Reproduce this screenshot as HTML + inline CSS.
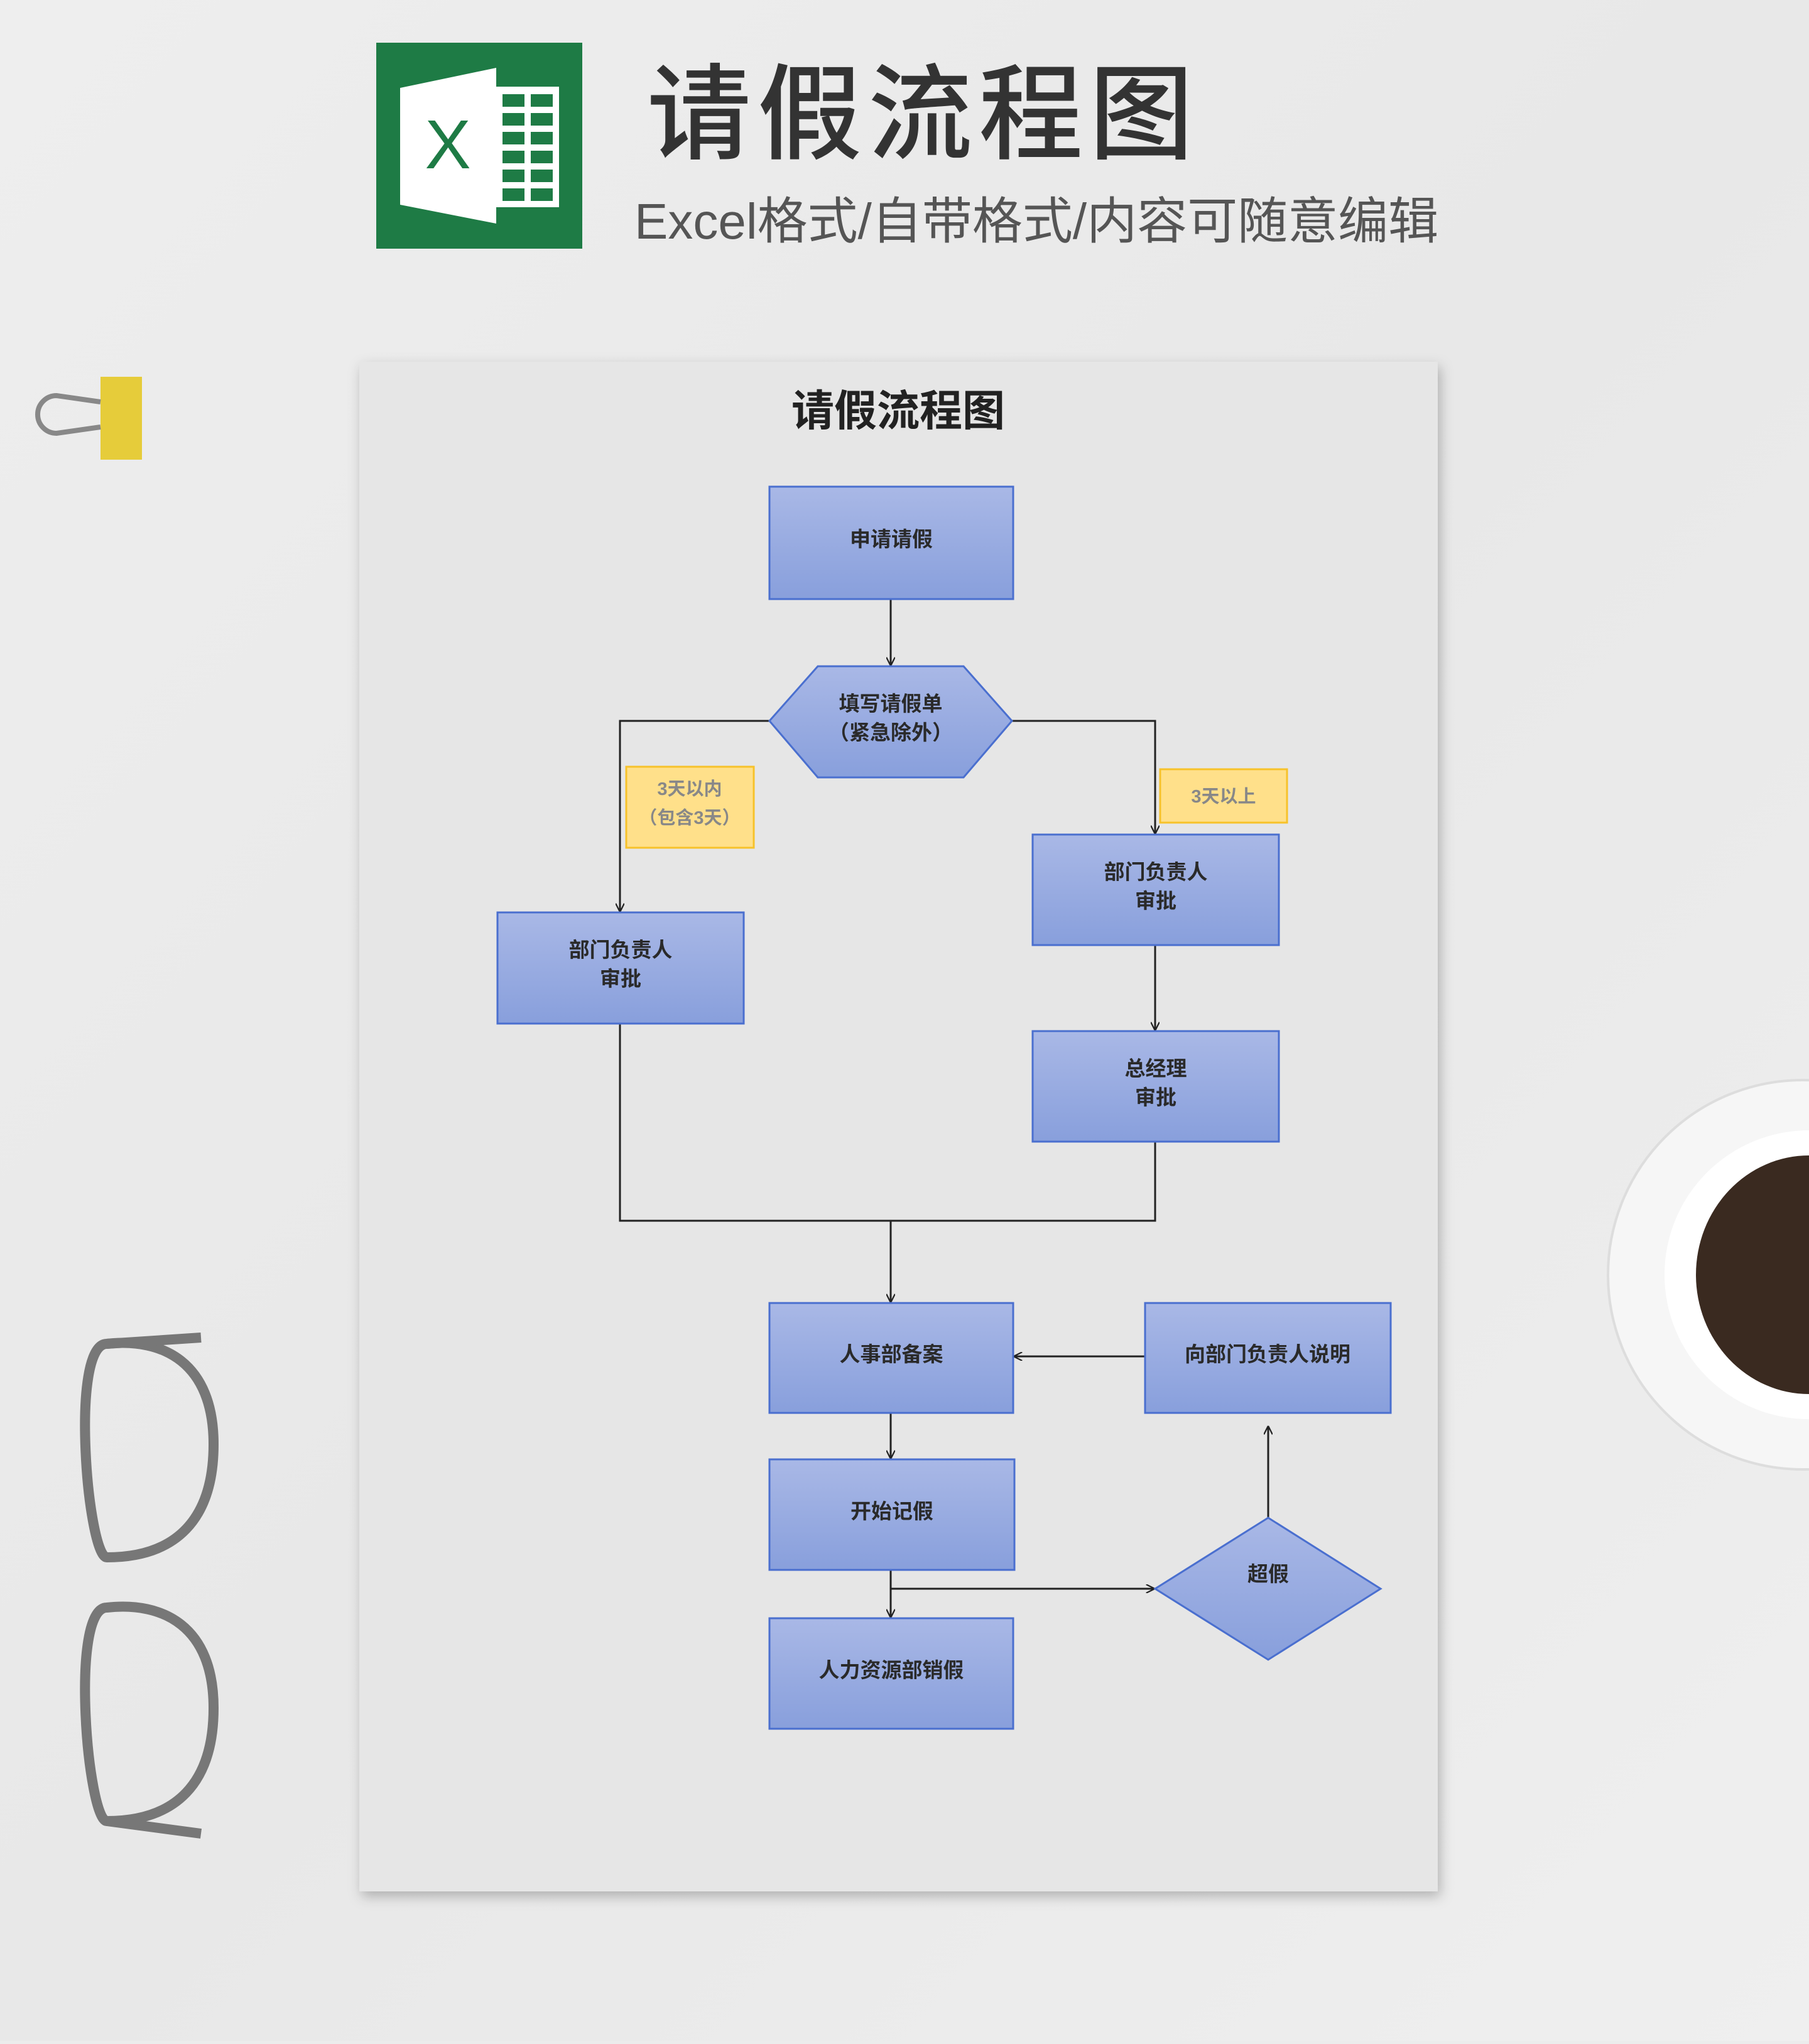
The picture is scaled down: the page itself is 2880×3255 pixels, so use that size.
<!DOCTYPE html>
<html><head><meta charset="utf-8"><style>
html,body{margin:0;padding:0;}
body{width:2880px;height:3250px;overflow:hidden;background:#ececec;font-family:"Liberation Sans","Noto Sans CJK SC",sans-serif;}
</style></head><body>
<svg width="2880" height="3250" viewBox="0 0 2880 3250" xmlns="http://www.w3.org/2000/svg" font-family="Liberation Sans, Noto Sans CJK SC, sans-serif">
<defs>
<linearGradient id="bg" x1="0" y1="0" x2="1" y2="1">
<stop offset="0" stop-color="#eeeeee"/><stop offset="0.5" stop-color="#e8e8e8"/><stop offset="1" stop-color="#efefef"/></linearGradient>
<linearGradient id="bx" x1="0" y1="0" x2="0" y2="1">
<stop offset="0" stop-color="#a9b8e6"/><stop offset="1" stop-color="#889fdc"/></linearGradient>
<marker id="ar" viewBox="0 0 10 10" refX="9" refY="5" markerWidth="14" markerHeight="14" orient="auto" markerUnits="userSpaceOnUse">
<path d="M0,0 L10,5 L0,10" fill="none" stroke="#222" stroke-width="1.6"/></marker>
<filter id="sh" x="-5%" y="-5%" width="110%" height="110%"><feDropShadow dx="4" dy="8" stdDeviation="10" flood-color="#000" flood-opacity="0.25"/></filter>
</defs>
<rect width="2880" height="3250" fill="url(#bg)"/>
<rect x="599" y="68" width="328" height="328" fill="#1e7b45"/>
<polygon points="637,140 790,108 790,356 637,326" fill="#fff"/>
<rect x="790" y="138" width="100" height="192" fill="#fff"/>
<g fill="#1e7b45"><rect x="800" y="150" width="35" height="20"/><rect x="845" y="150" width="35" height="20"/>
<rect x="800" y="180" width="35" height="20"/><rect x="845" y="180" width="35" height="20"/>
<rect x="800" y="210" width="35" height="20"/><rect x="845" y="210" width="35" height="20"/>
<rect x="800" y="240" width="35" height="20"/><rect x="845" y="240" width="35" height="20"/>
<rect x="800" y="270" width="35" height="20"/><rect x="845" y="270" width="35" height="20"/>
<rect x="800" y="300" width="35" height="20"/><rect x="845" y="300" width="35" height="20"/></g>
<text x="713" y="268" font-size="110" fill="#1e7b45" text-anchor="middle" font-family="Liberation Sans, sans-serif">X</text>
<text x="1030" y="240" font-size="166" fill="#333" font-weight="500" letter-spacing="10">请假流程图</text>
<text x="1010" y="380" font-size="80" fill="#555">Excel格式/自带格式/内容可随意编辑</text>
<rect x="160" y="600" width="66" height="132" fill="#e6cc3a"/>
<path d="M160,640 L90,630 A25,25 0 1 0 90,690 L160,680" fill="none" stroke="#888" stroke-width="8"/>
<g fill="none" stroke="#777" stroke-width="16">
<path d="M170,2140 C110,2140 140,2480 170,2480 C280,2480 340,2420 340,2300 C340,2170 260,2130 170,2140Z"/>
<path d="M170,2560 C110,2560 140,2900 170,2900 C280,2900 340,2840 340,2720 C340,2590 260,2550 170,2560Z"/>
<path d="M170,2140 L320,2130"/><path d="M170,2900 L320,2920"/>
</g>
<circle cx="2870" cy="2030" r="310" fill="#f6f6f6" stroke="#ddd" stroke-width="4"/>
<circle cx="2880" cy="2030" r="230" fill="#fff"/>
<ellipse cx="2880" cy="2030" rx="180" ry="190" fill="#3a2a20"/>
<rect x="572" y="576" width="1717" height="2436" fill="#e6e6e6" filter="url(#sh)"/>
<text x="1430" y="678" font-size="68" fill="#222" font-weight="bold" text-anchor="middle">请假流程图</text>
<g stroke="#222" stroke-width="3" fill="none">
<line x1="1418" y1="954" x2="1418" y2="1059" marker-end="url(#ar)"/>
<polyline points="1225,1148 987,1148 987,1451" marker-end="url(#ar)"/>
<polyline points="1611,1148 1839,1148 1839,1327" marker-end="url(#ar)"/>
<line x1="1839" y1="1505" x2="1839" y2="1640" marker-end="url(#ar)"/>
<polyline points="987,1630 987,1944 1839,1944 1839,1818"/>
<line x1="1418" y1="1944" x2="1418" y2="2073" marker-end="url(#ar)"/>
<line x1="1823" y1="2160" x2="1615" y2="2160" marker-end="url(#ar)"/>
<line x1="1418" y1="2250" x2="1418" y2="2322" marker-end="url(#ar)"/>
<line x1="1418" y1="2500" x2="1418" y2="2575" marker-end="url(#ar)"/>
<line x1="1418" y1="2530" x2="1837" y2="2530" marker-end="url(#ar)"/>
<line x1="2019" y1="2417" x2="2019" y2="2272" marker-end="url(#ar)"/>
</g>
<g fill="url(#bx)" stroke="#4a6fcf" stroke-width="3">
<rect x="1225" y="775" width="388" height="179"/>
<polygon points="1225,1148 1302,1061 1534,1061 1611,1148 1534,1238 1302,1238"/>
<rect x="792" y="1453" width="392" height="177"/>
<rect x="1644" y="1329" width="392" height="176"/>
<rect x="1644" y="1642" width="392" height="176"/>
<rect x="1225" y="2075" width="388" height="175"/>
<rect x="1823" y="2075" width="391" height="175"/>
<rect x="1225" y="2324" width="390" height="176"/>
<rect x="1225" y="2577" width="388" height="176"/>
<polygon points="1839,2530 2019,2417 2198,2530 2019,2643"/>
</g>
<g fill="#ffe08a" stroke="#f7c22a" stroke-width="3">
<rect x="997" y="1221" width="203" height="129"/>
<rect x="1847" y="1225" width="202" height="85"/>
</g>
<g font-size="33" fill="#2a2a2a" font-weight="bold" text-anchor="middle">
<text x="1419" y="870">申请请假</text>
<text x="1418" y="1132">填写请假单</text><text x="1418" y="1178">（紧急除外）</text>
<text x="988" y="1524">部门负责人</text><text x="988" y="1570">审批</text>
<text x="1840" y="1400">部门负责人</text><text x="1840" y="1446">审批</text>
<text x="1840" y="1713">总经理</text><text x="1840" y="1759">审批</text>
<text x="1419" y="2168">人事部备案</text>
<text x="2018" y="2168">向部门负责人说明</text>
<text x="1420" y="2418">开始记假</text>
<text x="1419" y="2671">人力资源部销假</text>
<text x="2019" y="2518">超假</text>
</g>
<g font-size="29" fill="#888" font-weight="bold" text-anchor="middle">
<text x="1098" y="1266">3天以内</text><text x="1098" y="1312">（包含3天）</text>
<text x="1948" y="1278">3天以上</text>
</g>
</svg>
</body></html>
